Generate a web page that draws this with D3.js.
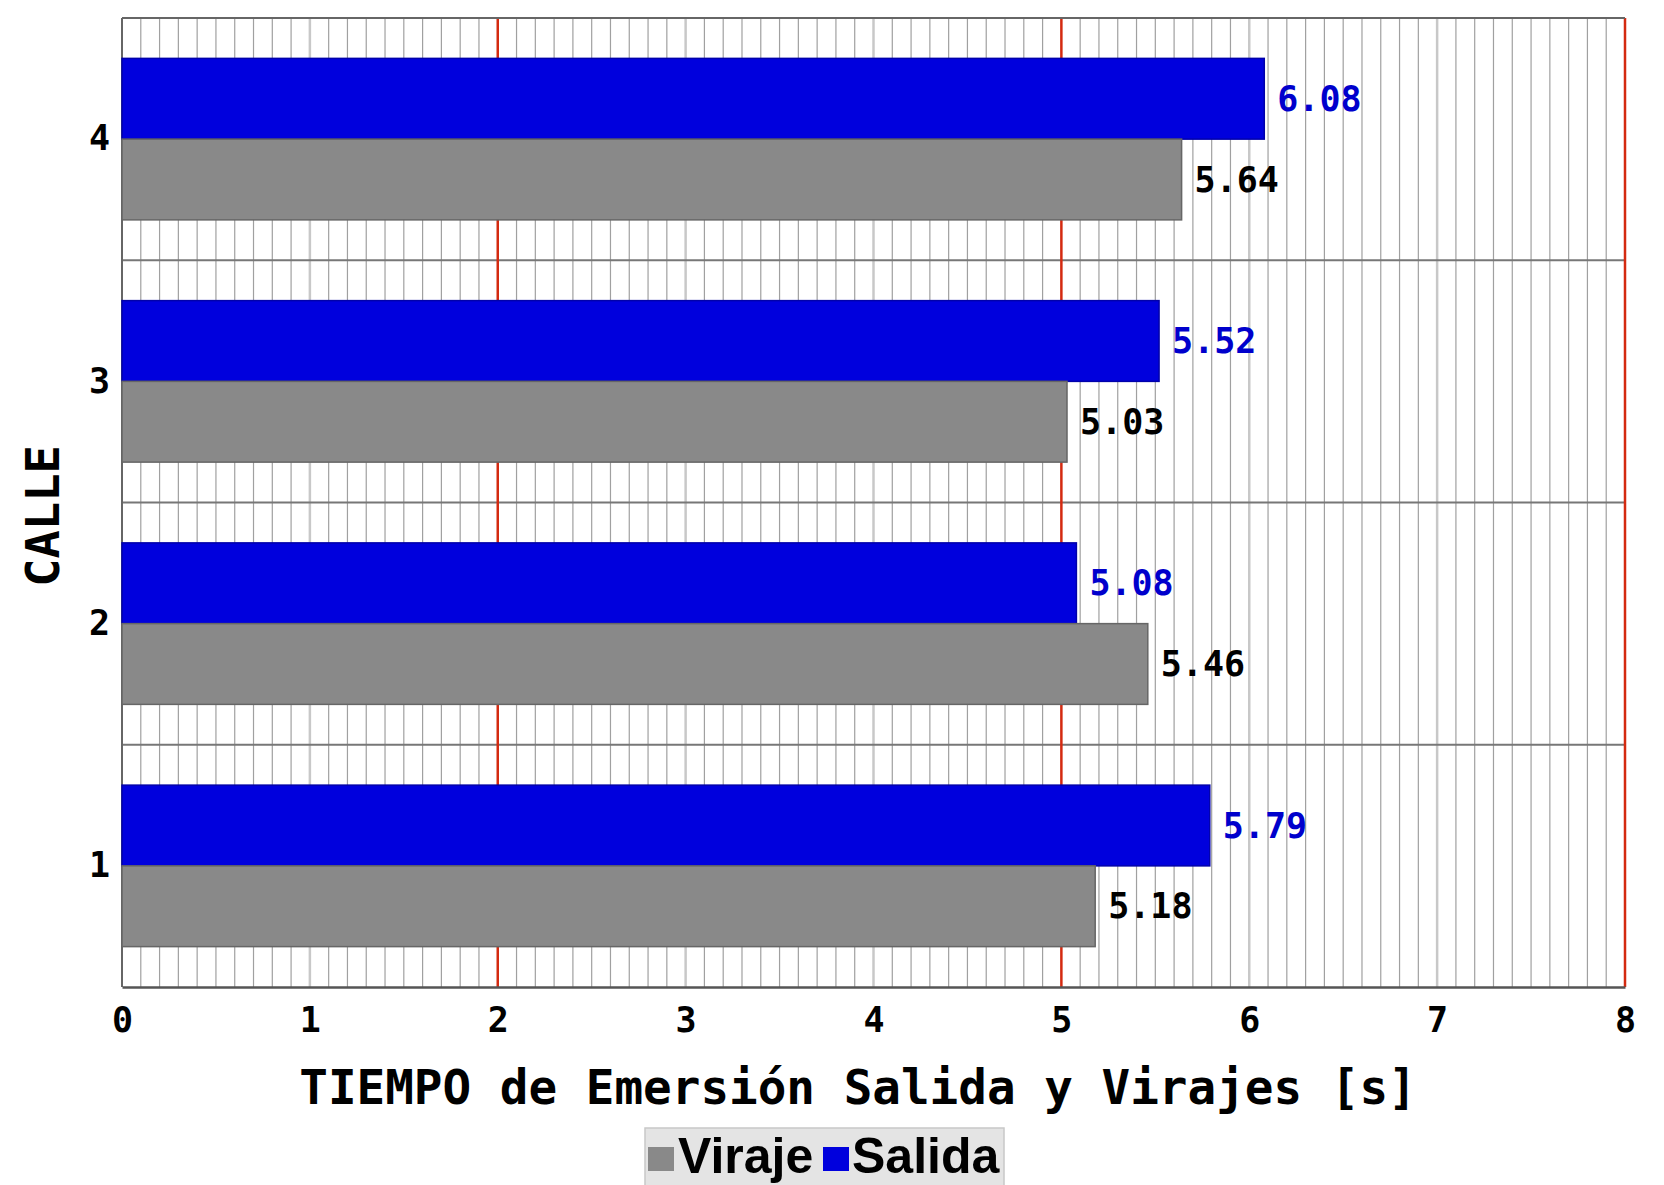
<!DOCTYPE html>
<html><head><meta charset="utf-8">
<script src="https://cdn.jsdelivr.net/npm/d3@7"></script>
<style>body{margin:0;background:#fff}svg{display:block}</style>
</head><body>
<script>
const categories = ["4","3","2","1"];
const seriesNames = ["Salida","Viraje"];
const salida = {"1":5.79,"2":5.08,"3":5.52,"4":6.08};
const viraje = {"1":5.18,"2":5.46,"3":5.03,"4":5.64};
const xTicks = [0,1,2,3,4,5,6,7,8];
const redLines = [2,5,8];
const xTitle = "TIEMPO de Emersión Salida y Virajes [s]";
const yTitle = "CALLE";

const W=1664,H=1185;
const L=122,R=1625,T=18,B=987;
const svg=d3.select("body").append("svg").attr("width",W).attr("height",H);
const x=d3.scaleLinear().domain([0,8]).range([L,R]);
const y=d3.scaleBand().domain(categories).range([T,B]).paddingInner(0).paddingOuter(0);
const ys=d3.scaleBand().domain(seriesNames).range([0,y.bandwidth()]).paddingInner(0).paddingOuter(0.5);
const colors={Salida:"#0000dd",Viraje:"#898989"};
const labelColors={Salida:"#0000cc",Viraje:"#000"};
const values={Salida:salida,Viraje:viraje};

// minor grid
const minor=d3.range(1,80).map(i=>i/10).filter(v=>Math.abs(v-Math.round(v))>1e-6);
svg.append("g").selectAll("line").data(minor).join("line")
 .attr("x1",d=>x(d)).attr("x2",d=>x(d)).attr("y1",T).attr("y2",B)
 .attr("stroke","#a0a0a0").attr("stroke-width",1.2);
// major
svg.append("g").selectAll("line").data(xTicks.filter(v=>!redLines.includes(v)&&v>0)).join("line")
 .attr("x1",d=>x(d)).attr("x2",d=>x(d)).attr("y1",T).attr("y2",B)
 .attr("stroke","#c8c8c8").attr("stroke-width",2.5);
// horizontal band lines
svg.append("g").selectAll("line").data(categories.slice(1)).join("line")
 .attr("x1",L).attr("x2",R).attr("y1",d=>y(d)).attr("y2",d=>y(d))
 .attr("stroke","#777").attr("stroke-width",2);
// red lines
svg.append("g").selectAll("line").data(redLines).join("line")
 .attr("x1",d=>x(d)).attr("x2",d=>x(d)).attr("y1",T).attr("y2",B)
 .attr("stroke","#d42a10").attr("stroke-width",2.5);
// border top/left
svg.append("line").attr("x1",L).attr("x2",R).attr("y1",T).attr("y2",T).attr("stroke","#666").attr("stroke-width",2);
svg.append("line").attr("x1",L).attr("x2",L).attr("y1",T).attr("y2",B).attr("stroke","#666").attr("stroke-width",2);

// bars
const g=svg.append("g");
categories.forEach(c=>{
  seriesNames.forEach(s=>{
    const v=values[s][c];
    g.append("rect").attr("x",x(0)).attr("y",y(c)+ys(s)).attr("width",x(v)-x(0)).attr("height",ys.bandwidth())
     .attr("fill",colors[s]).attr("stroke",s==="Viraje"?"#666":"#0000aa").attr("stroke-width",1.5);
    g.append("text").attr("x",x(v)+13).attr("y",y(c)+ys(s)+ys.bandwidth()/2)
     .attr("dominant-baseline","central").attr("font-family","DejaVu Sans Mono").attr("font-weight","bold")
     .attr("font-size",35).attr("fill",labelColors[s]).text(v.toFixed(2));
  });
});

// x axis
const xa=svg.append("g").attr("transform",`translate(0,${B})`).call(d3.axisBottom(x).tickValues(xTicks).tickSize(0).tickPadding(20).tickFormat(d3.format("d")));
xa.select(".domain").attr("stroke","#555").attr("stroke-width",2.5);
xa.selectAll("text").attr("font-family","DejaVu Sans Mono").attr("font-weight","bold").attr("font-size",35).attr("fill","#000");
// y axis
const ya=svg.append("g").attr("transform",`translate(${L},0)`).call(d3.axisLeft(y).tickSize(0).tickPadding(12));
ya.select(".domain").remove();
ya.selectAll("text").attr("font-family","DejaVu Sans Mono").attr("font-weight","bold").attr("font-size",35).attr("fill","#000");
// titles
svg.append("text").attr("x",858).attr("y",1104).attr("text-anchor","middle").attr("font-family","DejaVu Sans Mono")
 .attr("font-weight","bold").attr("font-size",47.6).text(xTitle);
svg.append("text").attr("transform","translate(59,516) rotate(-90)").attr("text-anchor","middle").attr("font-family","DejaVu Sans Mono")
 .attr("font-weight","bold").attr("font-size",47).text(yTitle);

// legend
const lg=svg.append("g");
lg.append("rect").attr("x",645).attr("y",1128).attr("width",359).attr("height",70).attr("fill","#e4e4e4").attr("stroke","#c8c8c8").attr("stroke-width",1.5);
const legendItems=[{s:"Viraje",sx:648,tx:678},{s:"Salida",sx:823,tx:852}];
legendItems.forEach(it=>{
  lg.append("rect").attr("x",it.sx).attr("y",1147).attr("width",26).attr("height",24).attr("fill",colors[it.s]);
  lg.append("text").attr("x",it.tx).attr("y",1173).attr("font-family","Liberation Sans").attr("font-weight","bold")
   .attr("font-size",50).attr("fill","#000").text(it.s);
});
</script>
</body></html>
